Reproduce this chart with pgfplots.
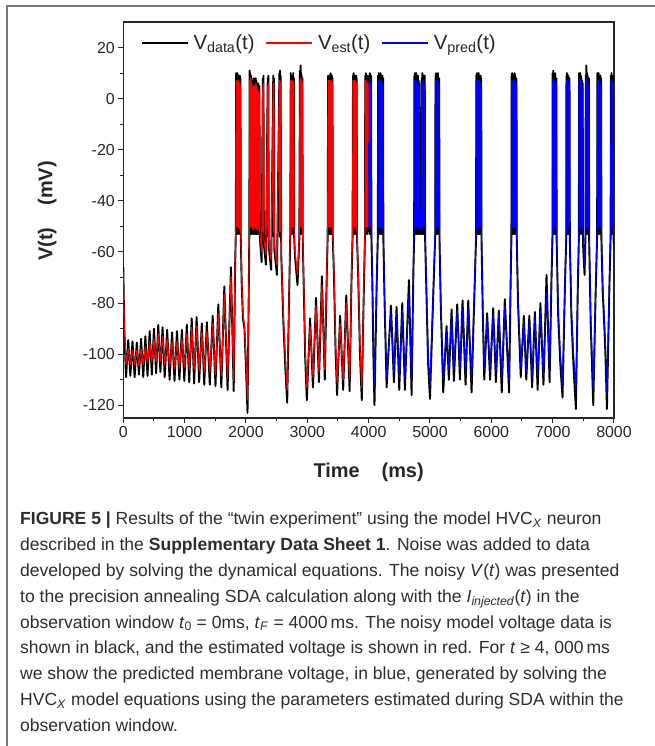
\documentclass[border=0pt]{standalone}
\usepackage{fontspec}
\setmainfont{Liberation Sans}
\usepackage{pgfplots}
\usepackage{pgfplotstable}
\pgfplotsset{compat=1.18}
\definecolor{cred}{RGB}{255,0,0}
\definecolor{cblue}{RGB}{0,0,255}
\definecolor{framegray}{RGB}{120,120,120}
\definecolor{captxt}{RGB}{45,45,45}

\pgfplotstableread{
t v d
0 -68 -66
15 -88 -90
45 -104 -109
80 -98 -94.5
115 -104 -108.5
150 -98.5 -95
185 -104 -109
220 -98.5 -95.5
255 -104.5 -108
290 -98 -94
325 -104 -109
360 -97 -93
395 -103.5 -108.5
430 -95 -91
465 -103 -108
500 -94 -90
535 -103 -107.5
570 -92 -88.5
605 -102.5 -107
640 -93 -89.5
675 -104 -109
715 -94 -90.5
755 -105 -110
795 -95 -91.5
835 -105.5 -110.5
875 -95 -91
915 -105.5 -110
955 -94 -90.5
995 -105 -110.5
1035 -92 -88.5
1075 -106 -111
1115 -89.5 -86
1155 -106 -111.5
1195 -89 -85.5
1237 -106.5 -111
1280 -91.5 -88
1320 -107 -112
1362 -91 -87.5
1410 -107 -112
1457 -88 -85
1503 -108 -112.5
1549 -84 -80.5
1598 -108.5 -113
1647 -76.5 -73.5
1700 -109.5 -114
1755 -69.5 -66
1800 -110.5 -114.5
1822 -65 -67
1835 -50 -52
1840 7 10
1845 -50 -52
1850 7 9
1855 -50 -53
1860 6 10
1865 -50 -52
1870 7 9
1875 -50 -52
1880 7 9
1885 -50 -53
1890 6 8
1895 -51 -52
1900 6 9
1905 -51 -53
1910 5 8
1915 -52 -54
1930 -70 -72
1950 -84 -86
1975 -89 -90
2000 -102 -105
2025 -118 -123
2045 -75 -77
2055 -52 -53
2060 7 11
2065 -50 -52
2070 8 10
2075 -50 -53
2080 7 9
2085 -50 -52
2090 6 8
2095 -50 -53
2100 5 7
2105 -51 -52
2110 4 6
2115 -51 -53
2120 5 7
2125 -50 -52
2130 5 8
2135 -50 -53
2140 4 6
2145 -51 -52
2150 5 7
2155 -50 -53
2160 6 8
2165 -51 -52
2170 5 7
2175 -50 -53
2180 4 6
2185 -51 -52
2190 3 5
2195 -50 -53
2200 3 6
2205 -51 -52
2210 2 4
2215 -51 -53
2220 2 5
2225 -52 -54
2255 -60 -64
2275 5 8
2280 -52 -54
2285 6 9
2292 -55 -57
2325 -61 -65
2355 5 8
2360 -52 -54
2365 6 9
2372 -56 -58
2410 -63 -67
2445 6 9
2450 -52 -54
2455 6 8
2462 -57 -59
2505 -65 -69
2545 7 10
2550 -52 -54
2555 7 11
2560 -52 -54
2565 6 9
2575 -60 -61
2610 -85 -88
2645 -104 -107
2672 -114 -119
2700 -80 -82
2722 -52 -54
2730 7 10
2735 -50 -52
2740 7 9
2745 -50 -53
2750 6 8
2755 -50 -52
2760 7 9
2765 -50 -53
2770 7 10
2775 -50 -52
2780 6 8
2785 -52 -54
2800 -60 -62
2840 -69 -73
2870 -53 -55
2880 7 11
2885 -50 -52
2890 8 13
2895 -50 -53
2900 7 10
2905 -50 -52
2910 7 9
2915 -51 -53
2920 6 8
2925 -53 -55
2945 -75 -77
2965 -98 -101
2992 -113 -118
3045 -89 -86
3092 -109 -113
3142 -81 -78
3190 -107 -111
3238 -73 -69.5
3285 -106 -110
3315 -70 -72
3332 -52 -54
3340 7 9
3345 -50 -52
3350 7 8
3355 -50 -53
3360 7 9
3365 -50 -52
3370 7 9
3375 -50 -53
3380 7 10
3385 -50 -52
3390 7 9
3395 -50 -53
3400 7 9
3405 -50 -52
3410 6 8
3415 -52 -54
3435 -68 -70
3460 -95 -98
3485 -111 -116
3535 -88 -85
3585 -110 -114
3635 -80 -77
3690 -110 -114.5
3720 -70 -72
3738 -52 -54
3745 7 9
3750 -50 -52
3755 7 10
3760 -50 -53
3765 7 9
3770 -50 -52
3775 7 9
3780 -50 -53
3785 7 8
3790 -50 -52
3795 6 9
3800 -51 -53
3805 6 8
3810 -52 -54
3830 -68 -70
3860 -98 -101
3888 -113 -118
3920 -75 -77
3940 -52 -54
3945 7 9
3950 -50 -52
3955 7 10
3960 -50 -53
3965 7 9
3970 -50 -52
3975 6 8
3980 -50 -53
3985 6 9
3990 -50 -52
3995 6 8
4000 -17 -15
}\tabA

\pgfplotstableread{
t v d
4000 -17 -15
4005 -50 -52
4010 7 9
4015 -50 -53
4020 7 10
4025 -50 -52
4030 6 8
4035 -50 -53
4040 6 9
4045 -52 -54
4060 -70 -72
4078 -97 -101
4095 -113 -120
4130 -72 -74
4150 -52 -54
4155 7 9
4160 -50 -52
4165 7 10
4170 -50 -53
4175 7 9
4180 -50 -52
4185 7 9
4190 -50 -53
4195 7 10
4200 -50 -52
4205 7 9
4210 -50 -53
4215 6 8
4220 -50 -52
4225 6 9
4230 -51 -53
4235 5 8
4240 -53 -55
4260 -78 -80
4293 -109 -113
4364 -84 -81
4412 -107 -111
4455 -84 -81.5
4499 -109 -114
4548 -83 -80
4591 -109 -114
4657 -77 -71
4700 -110 -116
4730 -65 -67
4742 -52 -54
4745 7 9
4750 -50 -52
4755 7 10
4760 -50 -53
4765 7 9
4770 -50 -52
4775 7 10
4780 -50 -53
4785 7 9
4790 -50 -52
4795 6 8
4800 -50 -53
4805 6 9
4810 -50 -52
4815 5 7
4820 -50 -53
4825 4 6
4830 -50 -52
4835 -45 -40
4840 -51 -53
4845 -44 -38
4850 -51 -52
4855 -45 -41
4860 -50 -53
4865 6 8
4870 -50 -52
4875 7 10
4880 -50 -53
4885 7 9
4890 -50 -52
4895 7 9
4900 -50 -53
4905 6 8
4910 -50 -52
4915 6 9
4920 -52 -54
4940 -72 -74
4970 -100 -104
5000 -112 -117.5
5060 -70 -72
5085 -52 -54
5090 7 9
5095 -50 -52
5100 7 10
5105 -50 -53
5110 7 9
5115 -50 -52
5120 7 9
5125 -50 -53
5130 7 10
5135 -50 -52
5140 6 8
5145 -50 -53
5150 6 8
5155 -53 -55
5175 -78 -80
5216 -110 -115
5270 -91 -89
5308 -106 -110
5352 -85 -82.5
5390 -106 -110.5
5444 -83 -80.5
5488 -106 -110
5531 -82 -79
5580 -108 -112
5624 -82 -79
5678 -110 -115
5730 -70 -72
5752 -52 -54
5755 7 9
5760 -50 -52
5765 7 10
5770 -50 -53
5775 7 9
5780 -50 -52
5785 7 9
5790 -50 -53
5795 7 10
5800 -50 -52
5805 7 9
5810 -50 -53
5815 6 8
5820 -50 -52
5825 6 9
5830 -50 -53
5835 6 8
5840 -53 -55
5860 -80 -83
5885 -106 -110
5932 -86 -84
5980 -106 -110
6030 -84 -82
6075 -107 -111
6122 -84 -83
6170 -109 -115
6220 -81 -78.5
6290 -110 -115
6315 -70 -72
6328 -52 -54
6330 7 9
6335 -50 -52
6340 7 10
6345 -50 -53
6350 7 9
6355 -50 -52
6360 7 9
6365 -50 -53
6370 4 6
6375 -50 -52
6380 7 10
6385 -50 -53
6390 7 9
6395 -50 -52
6400 6 8
6405 -50 -53
6410 5 8
6415 -53 -55
6435 -78 -80
6480 -105 -109
6530 -87 -85
6570 -107 -110
6620 -87 -85
6665 -109 -113
6710 -86 -83.5
6755 -109 -114
6800 -83 -80
6850 -108 -112
6900 -76 -69
6950 -106 -111
6980 -70 -72
6997 -52 -54
7000 7 10
7005 -50 -52
7010 7 11
7015 -50 -53
7020 7 9
7025 -50 -52
7030 7 9
7035 -50 -53
7040 7 10
7045 -50 -52
7050 6 8
7055 -50 -53
7060 6 8
7065 -53 -55
7090 -82 -85
7125 -100 -104
7161 -112 -117
7200 -72 -74
7222 -52 -54
7225 7 9
7230 -50 -52
7235 7 10
7240 -50 -53
7245 7 9
7250 -50 -52
7255 7 9
7260 -50 -53
7265 6 8
7270 -50 -52
7275 6 8
7280 -53 -55
7305 -82 -85
7340 -100 -105
7379 -114 -121.5
7410 -72 -74
7428 -52 -54
7430 7 10
7435 -50 -52
7440 7 9
7445 -50 -53
7450 7 10
7455 -50 -52
7460 7 9
7465 -50 -53
7470 6 8
7475 -50 -52
7480 5 7
7485 -50 -53
7490 4 6
7495 -55 -57
7520 -65 -69
7535 -52 -54
7540 7 9
7545 -50 -52
7550 8 13
7555 -50 -53
7560 7 10
7565 -50 -52
7570 7 9
7575 -50 -53
7580 6 8
7585 -50 -52
7590 6 8
7595 -53 -55
7620 -85 -88
7662 -114 -120
7700 -75 -77
7725 -52 -54
7730 7 10
7735 -50 -52
7740 7 9
7745 -50 -53
7750 7 10
7755 -50 -52
7760 7 9
7765 -50 -53
7770 6 8
7775 -50 -52
7780 6 9
7785 -50 -53
7790 5 8
7795 -53 -55
7815 -72 -75
7840 -85 -88
7860 -97 -100
7885 -115 -121.5
7925 -72 -74
7945 -52 -54
7950 7 9
7955 -50 -52
7960 7 10
7965 -50 -53
7970 7 9
7975 -50 -52
7980 6 8
7985 -50 -53
7990 6 9
7995 -54 -56
8000 -56 -57
}\tabB

\begin{document}
\begin{tikzpicture}
\path[use as bounding box] (0,0) rectangle (655bp,746bp);
\fill[white] (0,0) rectangle (655bp,746bp);
\draw[framegray, line width=1.3bp] (7bp,0) -- (7bp,740bp) -- (655bp,740bp);
\begin{axis}[
  at={(123.3bp,328bp)}, anchor=south west,
  scale only axis, width=490.7bp, height=396bp,
  xmin=0, xmax=8000, ymin=-125, ymax=30,
  xtick={0,1000,...,8000}, ytick={-120,-100,...,20},
  minor x tick num=1, minor y tick num=1,
  tick align=outside, xtick pos=left, ytick pos=left,
  major tick length=5bp, minor tick length=3bp,
  tick style={line width=1bp, black!85},
  axis line style={line width=1.2bp, black!85},
  scaled ticks=false,
  /pgf/number format/assume math mode=true,
  /pgf/number format/1000 sep={},
  ticklabel style={font=\fontsize{16}{19}\selectfont, text=black!85},
  xlabel={\textbf{Time\hspace{1.1em}(ms)}},
  ylabel={\textbf{V(t)\hspace{1.1em}(mV)}},
  label style={font=\fontsize{20}{24}\selectfont, text=black!85},
  xlabel style={at={(axis description cs:0.5,-0.136)}, anchor=center},
  ylabel style={at={(axis description cs:-0.155,0.523)}, anchor=center, rotate=0},
  legend columns=3,
  legend style={draw=none, fill=none, at={(axis description cs:0.03,0.947)}, anchor=west,
    font=\fontsize{20.5}{24}\selectfont, text=black!85,
    /tikz/every odd column/.append style={column sep=3bp},
    /tikz/every even column/.append style={column sep=9bp}},
  legend image code/.code={\draw[#1, line width=1.3bp] (0bp,0bp) -- (46bp,0bp);},
]
\addplot[black, line width=1.9bp, line join=round] table[x=t,y=d]{\tabA};
\addlegendentry{V\textsubscript{data}(t)}
\addplot[black, line width=1.9bp, line join=round, forget plot] table[x=t,y=d]{\tabB};
\addplot[cred, line width=1.1bp, line join=round] table[x=t,y=v]{\tabA};
\addlegendentry{V\textsubscript{est}(t)}
\addplot[cblue, line width=1.1bp, line join=round] table[x=t,y=v]{\tabB};
\addlegendentry{V\textsubscript{pred}(t)}
\end{axis}
\begin{scope}[every node/.style={anchor=base west, inner sep=0pt, text=captxt, font=\fontsize{17.6}{26}\selectfont}]
\node at (20bp,221bp) {\textbf{FIGURE 5 |} Results of the “twin experiment” using the model HVC\textsubscript{\textit{X}} neuron};
\node at (20bp,195.2bp) {described in the \textbf{Supplementary Data Sheet 1}. Noise was added to data};
\node at (20bp,169.4bp) {developed by solving the dynamical equations. The noisy \textit{V}(\textit{t}) was presented};
\node at (20bp,143.6bp) {to the precision annealing SDA calculation along with the \textit{I}\textsubscript{\textit{injected}}(\textit{t}) in the};
\node at (20bp,117.8bp) {observation window \textit{t}\textsubscript{0} = 0ms, \textit{t}\textsubscript{\textit{F}} = 4000\,ms. The noisy model voltage data is};
\node at (20bp,92bp) {shown in black, and the estimated voltage is shown in red. For \textit{t} ≥ 4, 000\,ms};
\node at (20bp,66.2bp) {we show the predicted membrane voltage, in blue, generated by solving the};
\node at (20bp,40.4bp) {HVC\textsubscript{\textit{X}} model equations using the parameters estimated during SDA within the};
\node at (20bp,14.6bp) {observation window.};
\end{scope}
\end{tikzpicture}
\end{document}
